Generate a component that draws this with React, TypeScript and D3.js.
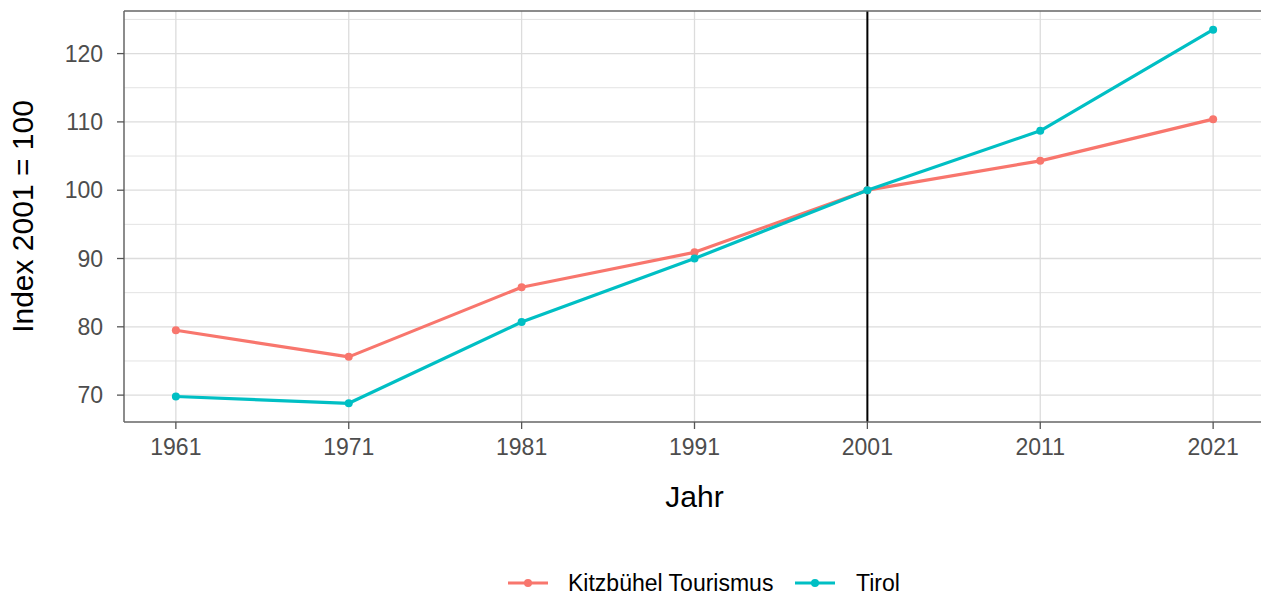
import React from "react";
import * as d3 from "d3";

const years = [1961, 1971, 1981, 1991, 2001, 2011, 2021];
const kitzbuehel = [79.5, 75.6, 85.8, 90.9, 100, 104.3, 110.4];
const tirol = [69.8, 68.8, 80.7, 90.0, 100, 108.7, 123.5];
const seriesNames = ["Kitzbühel Tourismus", "Tirol"];
const seriesColors = ["#F8766D", "#00BFC4"];
const yTicks = [70, 80, 90, 100, 110, 120];
const yMinor = [65, 75, 85, 95, 105, 115, 125];
const refYear = 2001;

const W = 1261;
const H = 596;
const panel = { left: 124, right: 1265, top: 11, bottom: 422 };
const FONT = "'Liberation Sans', Arial, sans-serif";

export default function App() {
  const allVals = [...kitzbuehel, ...tirol];
  const yMin = d3.min(allVals) as number;
  const yMax = d3.max(allVals) as number;
  const yPad = (yMax - yMin) * 0.05;
  const xMin = d3.min(years) as number;
  const xMax = d3.max(years) as number;
  const xPad = (xMax - xMin) * 0.05;

  const x = d3.scaleLinear().domain([xMin - xPad, xMax + xPad]).range([panel.left, panel.right]);
  const y = d3.scaleLinear().domain([yMin - yPad, yMax + yPad]).range([panel.bottom, panel.top]);

  const line = d3
    .line<[number, number]>()
    .x((d) => x(d[0]))
    .y((d) => y(d[1]));

  const series = [kitzbuehel, tirol].map((vals, i) => ({
    name: seriesNames[i],
    color: seriesColors[i],
    pts: years.map((yr, j) => [yr, vals[j]] as [number, number]),
  }));

  const [d0, d1] = y.domain();
  const minorVisible = yMinor.filter((v) => v >= d0 && v <= d1);

  const legendY = 583;
  const legendItems = [
    { keyX: 508, textX: 568 },
    { keyX: 795, textX: 856 },
  ];

  return (
    <div style={{ position: "fixed", left: 0, top: 0, width: W, height: H, background: "#fff" }}>
      <svg width={W} height={H} style={{ display: "block" }}>
        <rect x={0} y={0} width={W} height={H} fill="#fff" />
        {minorVisible.map((v) => (
          <line key={"mn" + v} x1={panel.left} x2={panel.right} y1={y(v)} y2={y(v)} stroke="#e3e3e3" strokeWidth={1} />
        ))}
        {yTicks.map((v) => (
          <line key={"my" + v} x1={panel.left} x2={panel.right} y1={y(v)} y2={y(v)} stroke="#dcdcdc" strokeWidth={1.3} />
        ))}
        {years.map((v) => (
          <line key={"mx" + v} x1={x(v)} x2={x(v)} y1={panel.top} y2={panel.bottom} stroke="#dcdcdc" strokeWidth={1.3} />
        ))}
        <line x1={x(refYear)} x2={x(refYear)} y1={panel.top} y2={panel.bottom} stroke="#000" strokeWidth={2} />
        {series.map((s) => (
          <g key={s.name}>
            <path d={line(s.pts) || ""} fill="none" stroke={s.color} strokeWidth={3.2} strokeLinejoin="round" />
            {s.pts.map((p, j) => (
              <circle key={j} cx={x(p[0])} cy={y(p[1])} r={4} fill={s.color} />
            ))}
          </g>
        ))}
        <line x1={panel.left} x2={panel.right} y1={panel.top} y2={panel.top} stroke="#666" strokeWidth={1.5} />
        <line x1={panel.left} x2={panel.right} y1={panel.bottom} y2={panel.bottom} stroke="#666" strokeWidth={1.5} />
        <line x1={panel.left} x2={panel.left} y1={panel.top} y2={panel.bottom} stroke="#666" strokeWidth={1.5} />
        {yTicks.map((v) => (
          <g key={"yt" + v}>
            <line x1={panel.left - 7} x2={panel.left} y1={y(v)} y2={y(v)} stroke="#555" strokeWidth={1.3} />
            <text x={panel.left - 21} y={y(v)} dy="0.36em" textAnchor="end" fontFamily={FONT} fontSize={23} fill="#4d4d4d">
              {v}
            </text>
          </g>
        ))}
        {years.map((v) => (
          <g key={"xt" + v}>
            <line x1={x(v)} x2={x(v)} y1={panel.bottom} y2={panel.bottom + 7} stroke="#555" strokeWidth={1.3} />
            <text x={x(v)} y={455} textAnchor="middle" fontFamily={FONT} fontSize={23} fill="#4d4d4d">
              {v}
            </text>
          </g>
        ))}
        <text x={(panel.left + panel.right) / 2} y={507} textAnchor="middle" fontFamily={FONT} fontSize={30} fill="#000">
          Jahr
        </text>
        <text
          transform={`translate(33, ${(panel.top + panel.bottom) / 2}) rotate(-90)`}
          textAnchor="middle"
          fontFamily={FONT}
          fontSize={30}
          fill="#000"
        >
          Index 2001 = 100
        </text>
        {series.map((s, i) => (
          <g key={"lg" + i}>
            <line x1={legendItems[i].keyX} x2={legendItems[i].keyX + 40} y1={legendY} y2={legendY} stroke={s.color} strokeWidth={3.2} />
            <circle cx={legendItems[i].keyX + 20} cy={legendY} r={4} fill={s.color} />
            <text x={legendItems[i].textX} y={legendY} dy="0.36em" fontFamily={FONT} fontSize={23} fill="#000">
              {s.name}
            </text>
          </g>
        ))}
      </svg>
    </div>
  );
}
